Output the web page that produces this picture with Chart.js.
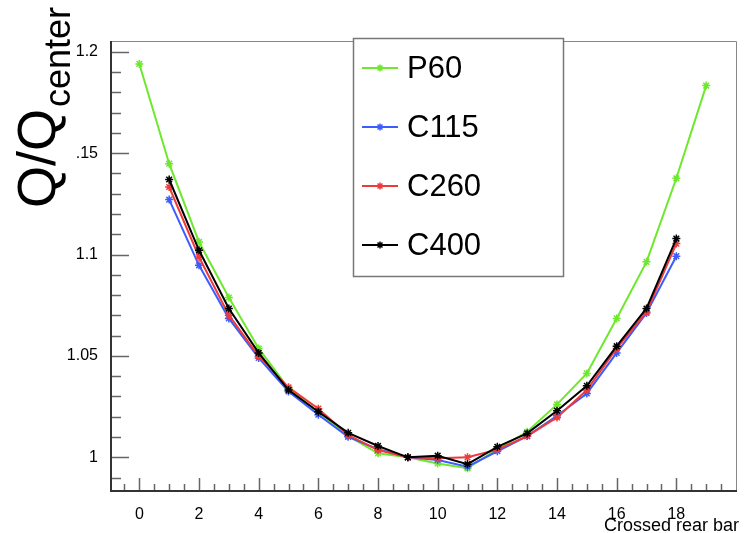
<!DOCTYPE html>
<html>
<head>
<meta charset="utf-8">
<script src="https://cdn.jsdelivr.net/npm/chart.js@4/dist/chart.umd.min.js"></script>
<style>
  html, body { margin: 0; padding: 0; background: #fff; }
  #wrap { width: 746px; height: 533px; }
</style>
</head>
<body>
<div id="wrap"><canvas id="chart" width="746" height="533"></canvas></div>
<script>
// data
const seriesNames = ['P60', 'C115', 'C260', 'C400'];
const p60Bars = [0, 1, 2, 3, 4, 5, 6, 7, 8, 9, 10, 11, 12, 13, 14, 15, 16, 17, 18, 19];
const cBars = [1, 2, 3, 4, 5, 6, 7, 8, 9, 10, 11, 12, 13, 14, 15, 16, 17, 18];
const p60 = [1.194, 1.1448, 1.1062, 1.0788, 1.0537, 1.034, 1.0222, 1.0105, 1.002, 1.000,
             0.997, 0.9946, 1.004, 1.0126, 1.0261, 1.0414, 1.0685, 1.0964, 1.1376, 1.1833];
const c115 = [1.1271, 1.0947, 1.0685, 1.049, 1.0325, 1.021, 1.0101, 1.004, 1.000,
              0.9987, 0.9954, 1.003, 1.0105, 1.0205, 1.0315, 1.0515, 1.0712, 1.0992];
const c260 = [1.1333, 1.0988, 1.0701, 1.0499, 1.0345, 1.024, 1.011, 1.0036, 1.000,
              0.9995, 1.000, 1.0038, 1.0105, 1.0197, 1.0332, 1.0537, 1.0717, 1.1054];
const c400 = [1.137, 1.1021, 1.0734, 1.0515, 1.0332, 1.0225, 1.0121, 1.0056, 1.000,
              1.0008, 0.9966, 1.0052, 1.0118, 1.023, 1.0353, 1.0548, 1.0734, 1.1079];

const xTicks = [0, 2, 4, 6, 8, 10, 12, 14, 16, 18];
const yTicks = [1, 1.05, 1.1, 1.15, 1.2];
const yTickLabels = ['1', '1.05', '1.1', '.15', '1.2'];
const xTitle = 'Crossed rear bar';

const colors = ['#6ee82c', '#3d5cff', '#f03a3a', '#000000'];
const FONT = '"Liberation Sans", Arial, Helvetica, sans-serif';

const pts = (xs, ys) => xs.map((x, i) => ({ x: x, y: ys[i] }));
const allData = [pts(p60Bars, p60), pts(cBars, c115), pts(cBars, c260), pts(cBars, c400)];

const rootStyle = {
  id: 'rootStyle',
  beforeDatasetsDraw(chart) {
    const { ctx, chartArea: a, scales: { x, y } } = chart;
    ctx.save();
    ctx.strokeStyle = '#666';
    ctx.lineWidth = 1.5;
    ctx.beginPath();
    // x ticks, inside the frame
    for (let v = -0.5; v <= 19.51; v += 0.5) {
      const major = Math.abs(v / 2 - Math.round(v / 2)) < 1e-6;
      const px = Math.round(x.getPixelForValue(v)) + 0.5;
      ctx.moveTo(px, a.bottom);
      ctx.lineTo(px, a.bottom - (major ? 13 : 7));
    }
    // y ticks
    for (let k = 99; k <= 120; k++) {
      const v = k / 100;
      const major = k % 5 === 0;
      const py = Math.round(y.getPixelForValue(v)) + 0.5;
      ctx.moveTo(a.left, py);
      ctx.lineTo(a.left + (major ? 18 : 10), py);
    }
    ctx.stroke();
    ctx.restore();
  },
  afterDraw(chart) {
    const { ctx, chartArea: a } = chart;
    ctx.save();
    // frame
    ctx.strokeStyle = '#888';
    ctx.lineWidth = 1;
    ctx.beginPath();
    ctx.moveTo(a.left, a.top + 0.5);
    ctx.lineTo(a.right + 0.5, a.top + 0.5);
    ctx.lineTo(a.right + 0.5, a.bottom);
    ctx.stroke();
    ctx.strokeStyle = '#333';
    ctx.lineWidth = 2;
    ctx.beginPath();
    ctx.moveTo(a.left, a.top);
    ctx.lineTo(a.left, a.bottom);
    ctx.lineTo(a.right + 1, a.bottom);
    ctx.stroke();

    // legend box
    const lx = 353, ly = 38, lw = 210, lh = 238;
    ctx.fillStyle = '#fff';
    ctx.fillRect(lx, ly, lw, lh);
    ctx.strokeStyle = '#777';
    ctx.lineWidth = 1.5;
    ctx.strokeRect(lx + 0.5, ly + 0.5, lw, lh);
    const rowY = [68, 127, 186, 245];
    seriesNames.forEach((name, i) => {
      ctx.strokeStyle = colors[i];
      ctx.lineWidth = 2;
      ctx.beginPath();
      ctx.moveTo(362, rowY[i]);
      ctx.lineTo(398, rowY[i]);
      ctx.stroke();
      ctx.lineWidth = 1.5;
      Chart.helpers.drawPoint(ctx, { pointStyle: 'star', radius: 3.5, rotation: 0, borderWidth: 1.5 }, 380, rowY[i]);
      ctx.fillStyle = '#000';
      ctx.font = '31px ' + FONT;
      ctx.textAlign = 'left';
      ctx.textBaseline = 'middle';
      ctx.fillText(name, 407, rowY[i] + 1);
    });

    // x title
    ctx.fillStyle = '#000';
    ctx.font = '18px ' + FONT;
    ctx.textAlign = 'right';
    ctx.textBaseline = 'alphabetic';
    ctx.fillText(xTitle, 739, 531);

    // y title Q/Q_center, rotated
    ctx.translate(55, 208);
    ctx.rotate(-Math.PI / 2);
    ctx.textAlign = 'left';
    ctx.font = '54px ' + FONT;
    ctx.fillText('Q/Q', 0, 0);
    const w = ctx.measureText('Q/Q').width;
    ctx.font = '36px ' + FONT;
    ctx.fillText('center', w + 2, 15);
    ctx.restore();
  }
};

new Chart(document.getElementById('chart'), {
  type: 'line',
  data: {
    datasets: seriesNames.map((name, i) => ({
      label: name,
      data: allData[i],
      borderColor: colors[i],
      backgroundColor: colors[i],
      borderWidth: 2,
      pointStyle: 'star',
      pointRadius: 4,
      pointBorderWidth: 1.5,
      fill: false,
      tension: 0,
      order: 3 - i
    }))
  },
  options: {
    responsive: false,
    animation: false,
    layout: { padding: { left: 0, right: 10, top: 41, bottom: 0 } },
    plugins: { legend: { display: false }, tooltip: { enabled: false } },
    scales: {
      x: {
        type: 'linear',
        min: -0.95,
        max: 20.0,
        grid: { display: false },
        border: { display: false },
        afterFit(s) { s.height = 42; },
        afterBuildTicks(s) { s.ticks = xTicks.map(v => ({ value: v })); },
        ticks: { padding: 6, color: '#000', font: { family: FONT, size: 16 }, maxRotation: 0, autoSkip: false }
      },
      y: {
        type: 'linear',
        min: 0.9834,
        max: 1.2053,
        grid: { display: false },
        border: { display: false },
        afterFit(s) { s.width = 111; },
        afterBuildTicks(s) { s.ticks = yTicks.map(v => ({ value: v })); },
        ticks: {
          padding: 5, color: '#000', font: { family: FONT, size: 16 }, autoSkip: false,
          callback: (v) => yTickLabels[yTicks.indexOf(v)]
        }
      }
    }
  },
  plugins: [rootStyle]
});
</script>
</body>
</html>
